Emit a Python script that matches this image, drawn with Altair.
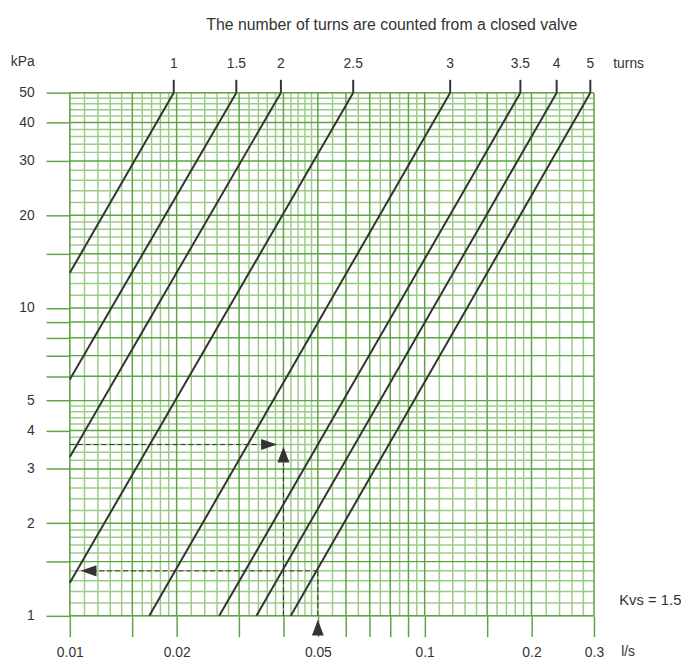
import altair as alt
import pandas as pd

# ---------------- data ----------------
X_TICKS = [0.01, 0.015, 0.02, 0.03, 0.04, 0.05, 0.06, 0.07, 0.08, 0.09, 0.1, 0.15, 0.2, 0.3]
X_LABELS = [0.01, 0.02, 0.05, 0.1, 0.2, 0.3]
Y_TICKS = [1, 1.5, 2, 3, 4, 5, 6, 7, 8, 9, 10, 15, 20, 30, 40, 50]
Y_LABELS = [1, 2, 3, 4, 5, 10, 20, 30, 40, 50]

X_FINE = [0.011, 0.012, 0.013, 0.014, 0.016, 0.017, 0.018, 0.019,
          0.022, 0.024, 0.026, 0.028, 0.032, 0.034, 0.036, 0.038,
          0.042, 0.044, 0.046, 0.048, 0.055, 0.065, 0.075, 0.085, 0.095,
          0.11, 0.12, 0.13, 0.14, 0.16, 0.17, 0.18, 0.19,
          0.22, 0.24, 0.26, 0.28]
Y_FINE = [1.1, 1.2, 1.3, 1.4, 1.6, 1.7, 1.8, 1.9,
          2.2, 2.4, 2.6, 2.8, 3.2, 3.4, 3.6, 3.8, 4.2, 4.4, 4.6, 4.8,
          11, 12, 13, 14, 16, 17, 18, 19,
          22, 24, 26, 28, 32, 34, 36, 38, 42, 44, 46, 48]

TURNS = ["1", "1.5", "2", "2.5", "3", "3.5", "4", "5"]
Q_START = [0.01, 0.01, 0.01, 0.01, 0.01675, 0.02637, 0.03357, 0.04195]
DP_START = [13.0, 5.85, 3.28, 1.28, 1.0, 1.0, 1.0, 1.0]
Q_END = [0.01963, 0.02946, 0.03934, 0.0629, 0.1180, 0.1861, 0.2355, 0.2930]
DP_END = [50, 50, 50, 50, 50, 50, 50, 50]

# dashed reading examples (segments)
DASH_Q = [0.01, 0.04, 0.05, 0.05]
DASH_Q2 = [0.03438, 0.04, 0.05, 0.01184]
DASH_DP = [3.6, 1.0, 1.0, 1.4]
DASH_DP2 = [3.6, 3.12, 1.4, 1.4]

# arrow tips
ARROW_Q = [0.03835, 0.04, 0.05, 0.01073]
ARROW_DP = [3.6, 3.54, 0.971, 1.4]
ARROW_DIR = ["right", "up", "up", "left"]

# ---------------- styling ----------------
FONT = "Liberation Sans"
INK = "#333333"
GREEN_DARK = "#5fa444"
GREEN_LIGHT = "#9ccb89"

xscale = alt.Scale(type="log", domain=[0.01, 0.3], nice=False)
yscale = alt.Scale(type="log", domain=[1, 50], nice=False)

x_label_expr = "indexof(%s, datum.value) >= 0 ? format(datum.value, '~g') : ''" % str(X_LABELS)
y_label_expr = "indexof(%s, datum.value) >= 0 ? format(datum.value, '~g') : ''" % str(Y_LABELS)

xaxis = alt.Axis(values=X_TICKS, labelExpr=x_label_expr, title=None, grid=False, domain=False,
                 tickColor=GREEN_DARK, tickWidth=1.5, tickSize=21, labelPadding=9,
                 labelFont=FONT, labelFontSize=14, labelColor=INK,
                 labelOverlap=False, labelFlush=False)
yaxis = alt.Axis(values=Y_TICKS, labelExpr=y_label_expr, title=None, grid=False, domain=False,
                 tickColor=GREEN_DARK, tickWidth=1.5, tickSize=24, labelPadding=12,
                 labelFont=FONT, labelFontSize=14, labelColor=INK,
                 labelOverlap=False, labelFlush=False)


def X(f):
    return alt.X(f, type="quantitative", scale=xscale, axis=xaxis)


def X2(f):
    return alt.X2(f)


def Y(f):
    return alt.Y(f, type="quantitative", scale=yscale, axis=yaxis)


fine_x = pd.DataFrame({"q": X_FINE})
fine_y = pd.DataFrame({"dp": Y_FINE})
major_x = pd.DataFrame({"q": X_TICKS})
major_y = pd.DataFrame({"dp": Y_TICKS})

lines_df = pd.DataFrame({"turn": TURNS, "q": Q_START, "q2": Q_END, "dp": DP_START, "dp2": DP_END})
dash_df = pd.DataFrame({"q": DASH_Q, "q2": DASH_Q2, "dp": DASH_DP, "dp2": DASH_DP2})
arrow_df = pd.DataFrame({"q": ARROW_Q, "dp": ARROW_DP, "dir": ARROW_DIR})

g_fx = alt.Chart(fine_x).mark_rule(color=GREEN_LIGHT, strokeWidth=1.5).encode(x=X("q"))
g_fy = alt.Chart(fine_y).mark_rule(color=GREEN_LIGHT, strokeWidth=1.5).encode(y=Y("dp"))
g_mx = alt.Chart(major_x).mark_rule(color=GREEN_DARK, strokeWidth=1.5).encode(x=X("q"))
g_my = alt.Chart(major_y).mark_rule(color=GREEN_DARK, strokeWidth=1.5).encode(y=Y("dp"))

turn_lines = alt.Chart(lines_df).mark_rule(color=INK, strokeWidth=2).encode(
    x=X("q"), x2=X2("q2"), y=Y("dp"), y2=alt.Y2("dp2"))

top_ticks = alt.Chart(lines_df).mark_rule(color=INK, strokeWidth=2).encode(
    x=X("q2"), y=alt.value(-13), y2=alt.value(0))

top_labels = alt.Chart(lines_df).mark_text(font=FONT, fontSize=14, color=INK, align="center",
                                           baseline="alphabetic").encode(
    x=X("q2"), y=alt.value(-25), text="turn:N")

dashes = alt.Chart(dash_df).mark_rule(color=INK, strokeWidth=1, strokeDash=[5, 3]).encode(
    x=X("q"), x2=X2("q2"), y=Y("dp"), y2=alt.Y2("dp2"))

SHAPES = {
    "right": "M0,0 L-2,-0.7 L-2,0.7 Z",
    "left": "M0,0 L2,-0.7 L2,0.7 Z",
    "up": "M0,0 L-0.75,2 L0.75,2 Z",
}
arrows = alt.layer(*[
    alt.Chart(arrow_df).transform_filter(alt.datum.dir == d).mark_point(
        shape=s, filled=True, size=256, color=INK, opacity=1, strokeWidth=0).encode(
        x=X("q"), y=Y("dp"))
    for d, s in SHAPES.items()
])


def label(txt, x, y, align="left", size=14):
    return alt.Chart(pd.DataFrame({"t": [txt]})).mark_text(
        font=FONT, fontSize=size, color=INK, align=align, baseline="alphabetic").encode(
        text="t:N", x=alt.value(x), y=alt.value(y))


texts = alt.layer(
    label("The number of turns are counted from a closed valve", 325.5, -63, "center", 16),
    label("kPa", -35.5, -27, "right"),
    label("turns", 549.5, -25, "left"),
    label("l/s", 557.5, 570, "left"),
    label("Kvs = 1.5", 555.5, 518, "left", 15),
)

chart = alt.layer(g_fx, g_fy, g_mx, g_my, turn_lines, dashes, arrows, top_ticks, top_labels, texts).properties(
    width=530, height=529,
    autosize=alt.AutoSizeParams(type="none"),
    padding={"left": 62.5, "top": 82, "right": 88, "bottom": 40},
).configure_view(stroke=INK, strokeWidth=2).configure(background="white")

chart.save("out.html", embed_options={"renderer": "svg", "actions": False})
